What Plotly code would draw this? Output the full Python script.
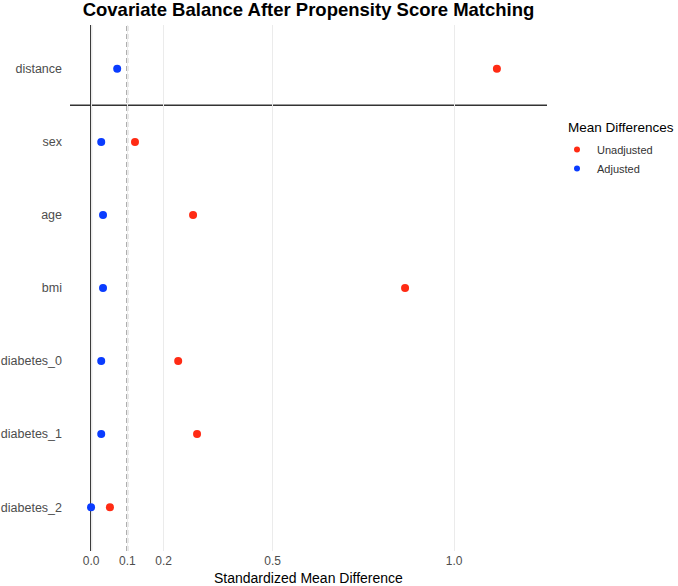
import plotly.graph_objects as go

covariates = ["distance", "sex", "age", "bmi", "diabetes_0", "diabetes_1", "diabetes_2"]
unadjusted = [1.118, 0.121, 0.281, 0.865, 0.240, 0.292, 0.052]
adjusted = [0.072, 0.028, 0.033, 0.033, 0.028, 0.028, 0.000]
x_ticks = [0.0, 0.1, 0.2, 0.5, 1.0]
x_tick_labels = ["0.0", "0.1", "0.2", "0.5", "1.0"]
threshold = 0.1
series_names = ["Unadjusted", "Adjusted"]

RED = "#ff2b14"
BLUE = "#0a3cff"
FONT = "Liberation Sans, Arial, sans-serif"

L, R, T, B = 70, 131, 25, 35
W, H = 678, 586
PW, PH = W - L - R, H - T - B

fig = go.Figure()
for vals, name, col in [(unadjusted, series_names[0], RED), (adjusted, series_names[1], BLUE)]:
    fig.add_trace(go.Scatter(x=vals, y=covariates, mode="markers", name=name,
                             marker=dict(color=col, size=8), showlegend=False))
# legend-only entries with smaller keys
for name, col in [(series_names[0], RED), (series_names[1], BLUE)]:
    fig.add_trace(go.Scatter(x=[None], y=[None], mode="markers", name=name,
                             marker=dict(color=col, size=6), showlegend=True))

# reference lines
fig.add_shape(type="line", xref="x", yref="paper", x0=0, x1=0, y0=0, y1=1,
              line=dict(color="#333333", width=2), layer="between")
fig.add_shape(type="line", xref="x", yref="paper", x0=threshold, x1=threshold, y0=0, y1=1,
              line=dict(color="#333333", width=1.5, dash="5px,3px"), layer="between")
fig.add_shape(type="line", xref="paper", yref="y", x0=0, x1=1, y0=0.5, y1=0.5,
              line=dict(color="#333333", width=1.5), layer="between")

fig.update_layout(
    width=W, height=H,
    margin=dict(l=L, r=R, t=T, b=B),
    plot_bgcolor="white", paper_bgcolor="white",
    font=dict(family=FONT, color="#4d4d4d"),
    title=dict(text="<b>Covariate Balance After Propensity Score Matching</b>",
               x=(L + PW / 2) / W, xref="container", xanchor="center",
               y=1 - 10 / H, yref="container", yanchor="middle",
               font=dict(size=18.5, color="black", family=FONT)),
    xaxis=dict(range=[-0.058, 1.256], tickvals=x_ticks, ticktext=x_tick_labels,
               showgrid=True, gridcolor="#ebebeb", gridwidth=1, zeroline=False,
               showline=False, ticks="", ticklabelstandoff=1, automargin=False,
               tickfont=dict(size=12, color="#4d4d4d")),
    yaxis=dict(type="category", categoryorder="array", categoryarray=covariates,
               range=[6.6, -0.6], showgrid=False, zeroline=False, showline=False,
               ticks="", ticklabelstandoff=7, automargin=False,
               tickfont=dict(size=12.5, color="#4d4d4d")),
    legend=dict(x=(557 - L) / PW, xanchor="left", y=(H - B - 135) / PH, yanchor="top",
                font=dict(size=11, color="#333333"), itemsizing="trace",
                tracegroupgap=0, bgcolor="rgba(0,0,0,0)"),
    showlegend=True,
)
fig.add_annotation(text="Mean Differences", xref="paper", yref="paper",
                   x=(566 - L) / PW, y=(H - B - 127) / PH, xanchor="left", yanchor="middle",
                   showarrow=False, font=dict(size=13.5, color="black", family=FONT))
fig.add_annotation(text="Standardized Mean Difference", xref="paper", yref="paper",
                   x=0.5, y=-(578 - (H - B)) / PH, xanchor="center", yanchor="middle",
                   showarrow=False, font=dict(size=14, color="black", family=FONT))

fig.write_html("out.html")
